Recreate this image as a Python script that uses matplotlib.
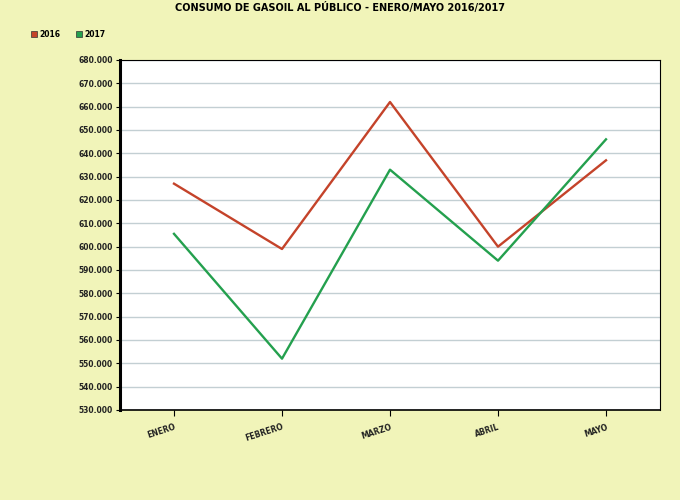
import numpy as np
import matplotlib
matplotlib.use("Agg")
import matplotlib.pyplot as plt
from matplotlib.ticker import FuncFormatter
from matplotlib.lines import Line2D

meses = ["ENERO", "FEBRERO", "MARZO", "ABRIL", "MAYO"]
v2016 = [627000, 599000, 662000, 600000, 637000]
v2017 = [605500, 552000, 633000, 594000, 646000]

bg = "#f1f4b9"
c2016 = "#c4432a"
c2017 = "#24a04e"

fig = plt.figure(figsize=(6.8, 5), dpi=100, facecolor=bg)
ax = fig.add_axes([120/680, 1 - 410/500, 540/680, 350/500])
ax.set_facecolor("white")

x = np.arange(len(meses))
ax.plot(x, v2016, color=c2016, linewidth=1.7, zorder=3)
ax.plot(x, v2017, color=c2017, linewidth=1.7, zorder=3)

ax.set_xlim(-0.5, 4.5)
ax.set_ylim(530000, 680000)
ax.set_yticks(np.arange(530000, 680001, 10000))
ax.yaxis.set_major_formatter(FuncFormatter(lambda v, p: f"{int(v):,}".replace(",", ".")))
ax.grid(axis="y", color="#c3cfd3", linewidth=1)
ax.set_axisbelow(True)

ax.set_xticks(x)
ax.set_xticklabels(meses, rotation=18, ha="right", rotation_mode="anchor")
for lbl in ax.get_xticklabels() + ax.get_yticklabels():
    lbl.set_fontsize(5.5)
    lbl.set_fontweight("heavy")
    lbl.set_color("#222222")
ax.tick_params(axis="y", length=3, width=0.8, pad=2)
ax.tick_params(axis="x", length=4, width=0.8, pad=5)

ax.spines["left"].set_linewidth(2.2)
ax.spines["bottom"].set_linewidth(1.2)
ax.spines["top"].set_linewidth(0.8)
ax.spines["right"].set_linewidth(0.8)

fig.text(340/680, 1 - 8/500, "CONSUMO DE GASOIL AL PÚBLICO - ENERO/MAYO 2016/2017",
         ha="center", va="center", fontsize=7, fontweight="heavy")

handles = [Line2D([], [], marker="s", linestyle="none", markersize=4.5,
                  markerfacecolor=c2016, markeredgecolor="#333333", markeredgewidth=0.5),
           Line2D([], [], marker="s", linestyle="none", markersize=4.5,
                  markerfacecolor=c2017, markeredgecolor="#333333", markeredgewidth=0.5)]
fig.legend(handles, ["2016", "2017"], loc="center left", bbox_to_anchor=(23/680, 1 - 34/500),
           ncol=2, frameon=False, prop={"size": 5.5, "weight": "heavy"},
           handletextpad=0.2, columnspacing=2.0, handlelength=1)

fig.savefig("out.png", dpi=100, facecolor=bg)
